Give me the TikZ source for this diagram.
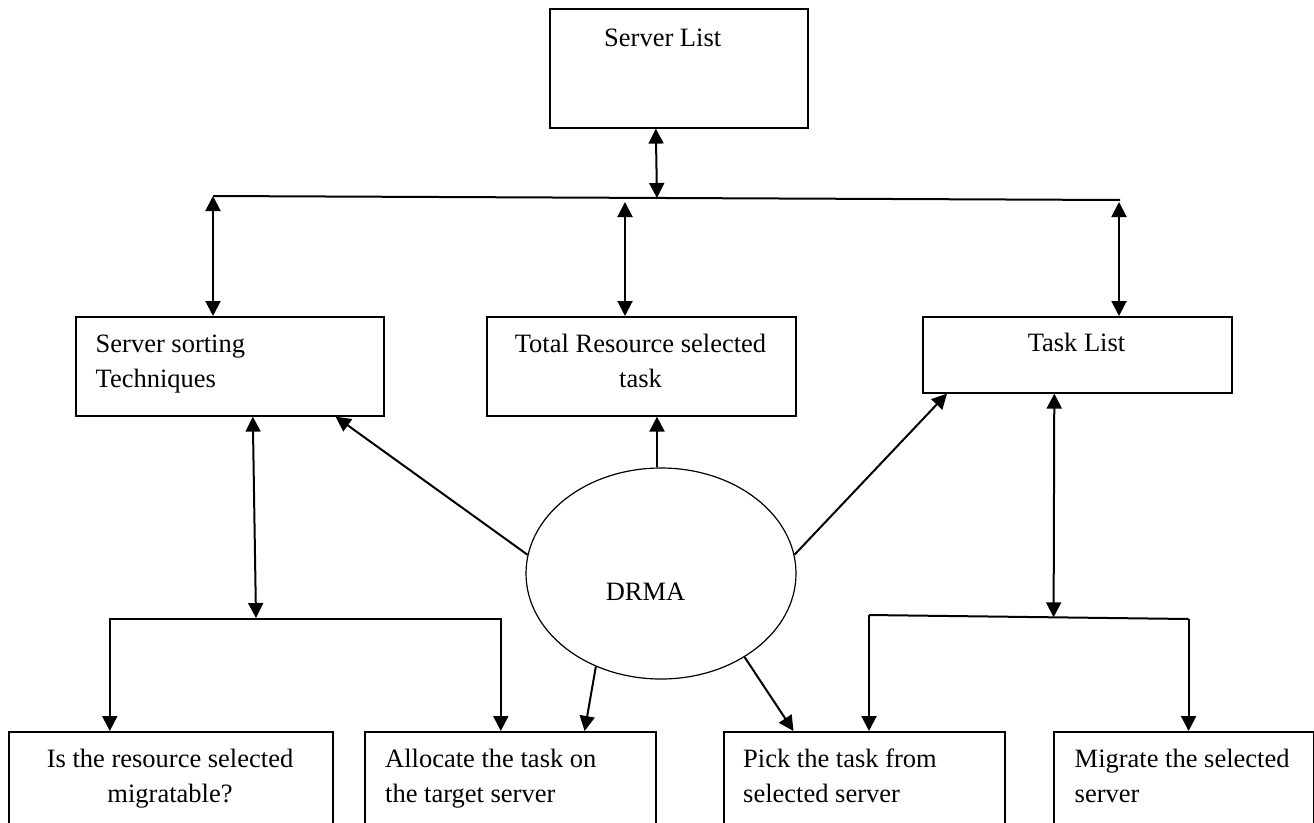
\documentclass[tikz,border=0pt]{standalone}
\usepackage{fontspec}
\setmainfont{Liberation Serif}
\usetikzlibrary{arrows.meta,shapes.geometric,calc}
\begin{document}
\begin{tikzpicture}[x=1pt,y=-1pt,
  box/.style={draw, line width=1.6pt, rectangle, inner sep=0pt, anchor=north west},
  txt/.style={inner sep=0pt, font=\fontsize{26.5}{35}\selectfont},
  ln/.style={line width=2pt},
  arr/.style={line width=2pt, -{Triangle[length=15pt,width=15pt]}},
  dbl/.style={line width=2pt, {Triangle[length=15pt,width=15pt]}-{Triangle[length=15pt,width=15pt]}},
  oval/.style={draw, ellipse, line width=1.2pt, inner sep=0pt}
]
\useasboundingbox (0,0) rectangle (1314,822);
\clip (0,0) rectangle (1314,822);
\fill[white] (0,0) rectangle (1314,822);

% boxes
\node[box, minimum width=258pt, minimum height=119pt] (sl) at (549,8) {};
\node[box, minimum width=308pt, minimum height=99pt] (ss) at (75,316) {};
\node[box, minimum width=309pt, minimum height=99pt] (tr) at (486,316) {};
\node[box, minimum width=309pt, minimum height=76pt] (tl) at (922,316) {};
\node[box, minimum width=324pt, minimum height=120pt] (b1) at (8,731) {};
\node[box, minimum width=291pt, minimum height=120pt] (b2) at (364,731) {};
\node[box, minimum width=281pt, minimum height=120pt] (b3) at (723,731) {};
\node[box, minimum width=260pt, minimum height=120pt] (b4) at (1053,731) {};
\node[oval, minimum width=270pt, minimum height=211pt] (drma) at (661,573.5) {};

% texts
\node[txt, anchor=base west] (slt) at (604,46) {Server List};
\node[txt, anchor=base west] (sst) at (95.5,352) {\begin{tabular}[t]{@{}l@{}}Server sorting\\Techniques\end{tabular}};
\node[txt, anchor=base] (trt) at (640.5,352) {\begin{tabular}[t]{@{}c@{}}Total Resource selected\\task\end{tabular}};
\node[txt, anchor=base] (tlt) at (1076.5,351) {Task List};
\node[txt, anchor=base] (b1t) at (170,767) {\begin{tabular}[t]{@{}c@{}}Is the resource selected\\migratable?\end{tabular}};
\node[txt, anchor=base west] (b2t) at (385,767) {\begin{tabular}[t]{@{}l@{}}Allocate the task on\\the target server\end{tabular}};
\node[txt, anchor=base west] (b3t) at (743,767) {\begin{tabular}[t]{@{}l@{}}Pick the task from\\selected server\end{tabular}};
\node[txt, anchor=base west] (b4t) at (1074.5,767) {\begin{tabular}[t]{@{}l@{}}Migrate the selected\\server\end{tabular}};
\node[txt, anchor=base] (drmat) at (645.5,600) {DRMA};

% top bus
\coordinate (busL) at (213,196);
\coordinate (busR) at (1120,200);
\coordinate (busM) at (657,198);
\coordinate (busA) at (625,202);
\coordinate (busB) at (1119,202);
\draw[ln] (busL) -- (busR);
\draw[dbl] ([xshift=-23pt]sl.south) -- (busM);
\draw[dbl] (busL) -- (busL |- ss.north);
\draw[dbl] (busA) -- (busA |- tr.north);
\draw[dbl] (busB) -- (busB |- tl.north);

% left bracket
\coordinate (brL) at (256,619);
\draw[dbl] ([xshift=23pt]ss.south) -- ([yshift=1pt]brL);
\draw[arr] (brL) -| ($(b1.north)+(-61,0)$);
\draw[arr] (brL) -| ($(b2.north)+(-9.5,0)$);

% right bracket
\coordinate (brR1) at (869,615);
\coordinate (brR2) at (1188.6,619);
\coordinate (brRm) at (1053.6,617.3);
\draw[ln] (brR1) -- (brR2);
\draw[dbl] ([xshift=-23pt]tl.south) -- (brRm);
\draw[arr] (brR1) -- (brR1 |- b3.north);
\draw[arr] (brR2) -- (brR2 |- b4.north);

% DRMA arrows
\draw[arr] (drma.172) -- ([xshift=-49pt]ss.south east);
\draw[arr] ([xshift=-4pt]drma.north) -- ([xshift=-4pt]drma.north |- tr.south);
\draw[arr] (drma.8) -- ([xshift=25pt]tl.south west);
\draw[arr] (drma.235.6) -- ([xshift=-72pt]b2.north east);
\draw[arr] (drma.315.5) -- ([xshift=70.5pt]b3.north west);
\end{tikzpicture}
\end{document}
